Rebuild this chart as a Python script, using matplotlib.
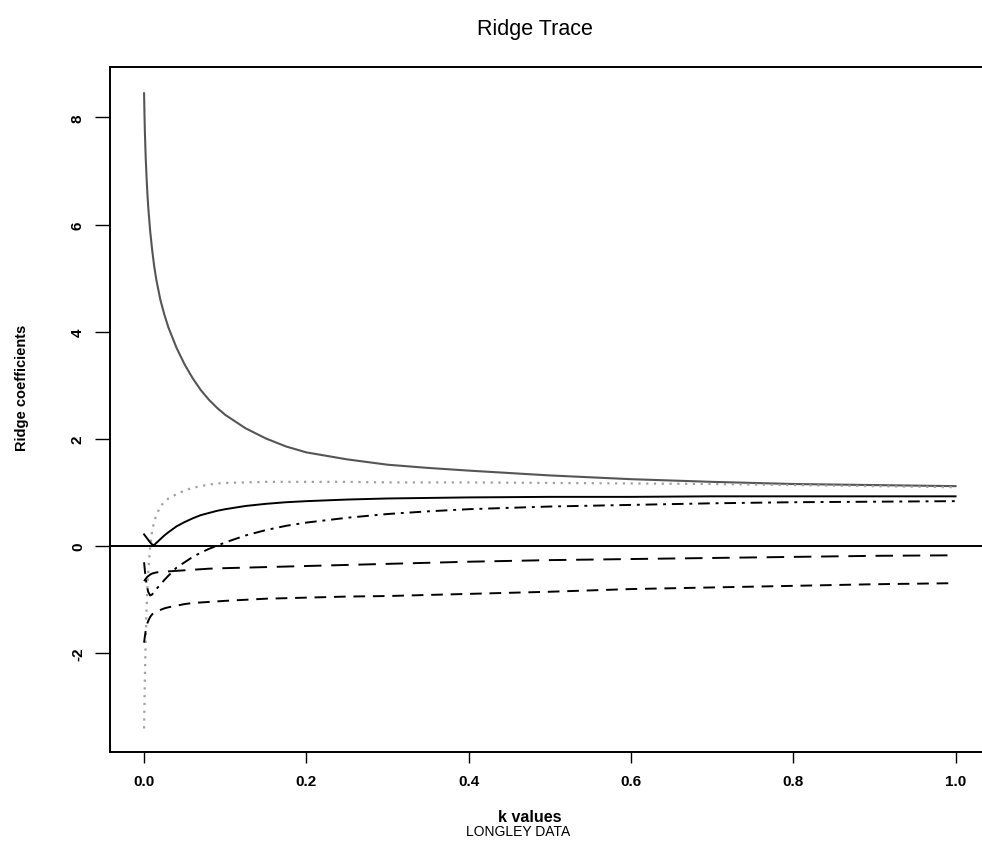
import matplotlib
matplotlib.use("Agg")
import matplotlib.pyplot as plt

plt.rcParams['font.family'] = ['Liberation Sans', 'DejaVu Sans']

# ridge parameter k
k = [0, 0.0005, 0.001, 0.002, 0.003, 0.004, 0.005, 0.0075, 0.01, 0.0125, 0.015, 0.02,
     0.025, 0.03, 0.04, 0.05, 0.06, 0.07, 0.08, 0.09, 0.1, 0.125, 0.15, 0.175, 0.2,
     0.25, 0.3, 0.35, 0.4, 0.5, 0.6, 0.7, 0.8, 0.9, 1.0]

coef_gray_solid = [8.45, 8.05, 7.72, 7.25, 6.9, 6.6, 6.35, 5.88, 5.52, 5.22, 4.98, 4.6,
                   4.32, 4.08, 3.7, 3.39, 3.13, 2.91, 2.73, 2.58, 2.45, 2.2, 2.01, 1.86, 1.75,
                   1.62, 1.52, 1.46, 1.41, 1.32, 1.25, 1.2, 1.16, 1.14, 1.12]
coef_gray_dotted = [-3.4, -2.9, -2.45, -1.75, -1.2, -0.8, -0.5, -0.02, 0.3, 0.46, 0.57, 0.74,
                    0.83, 0.89, 0.97, 1.04, 1.09, 1.12, 1.15, 1.17, 1.18, 1.19, 1.2, 1.2, 1.2,
                    1.2, 1.19, 1.19, 1.19, 1.18, 1.17, 1.16, 1.14, 1.12, 1.1]
coef_black_solid = [0.22, 0.21, 0.2, 0.18, 0.16, 0.14, 0.12, 0.07, 0.03, 0.02, 0.06, 0.13,
                    0.2, 0.26, 0.37, 0.45, 0.52, 0.58, 0.62, 0.66, 0.69, 0.75, 0.79, 0.82, 0.84,
                    0.87, 0.89, 0.9, 0.91, 0.92, 0.92, 0.93, 0.93, 0.93, 0.93]
coef_dashdot = [-0.3, -0.38, -0.46, -0.6, -0.7, -0.78, -0.85, -0.92, -0.9, -0.85, -0.8, -0.72,
                -0.63, -0.55, -0.4, -0.3, -0.2, -0.12, -0.05, 0.01, 0.07, 0.2, 0.3, 0.38, 0.44,
                0.53, 0.6, 0.65, 0.69, 0.74, 0.77, 0.8, 0.82, 0.83, 0.84]
coef_longdash = [-0.65, -0.64, -0.63, -0.61, -0.59, -0.57, -0.56, -0.53, -0.51, -0.5, -0.49, -0.48,
                 -0.475, -0.47, -0.46, -0.45, -0.44, -0.43, -0.42, -0.415, -0.41, -0.4, -0.39, -0.38, -0.37,
                 -0.35, -0.33, -0.31, -0.29, -0.26, -0.24, -0.22, -0.2, -0.18, -0.17]
coef_dashed = [-1.8, -1.74, -1.68, -1.58, -1.5, -1.44, -1.4, -1.32, -1.27, -1.24, -1.22, -1.19,
               -1.16, -1.14, -1.11, -1.08, -1.06, -1.05, -1.04, -1.03, -1.02, -1.0, -0.98, -0.97, -0.96,
               -0.94, -0.93, -0.91, -0.89, -0.85, -0.8, -0.77, -0.74, -0.71, -0.69]

xticks = [0.0, 0.2, 0.4, 0.6, 0.8, 1.0]
xticklabels = ["0.0", "0.2", "0.4", "0.6", "0.8", "1.0"]
yticks = [-2, 0, 2, 4, 6, 8]
yticklabels = ["-2", "0", "2", "4", "6", "8"]

W, H = 982, 845
fig = plt.figure(figsize=(W / 100, H / 100), dpi=100)
ax = fig.add_axes([110 / W, (H - 753) / H, 878 / W, 685 / H])

ax.plot(k, coef_gray_solid, color='#555555', lw=1.5)
ax.plot(k, coef_gray_dotted, color='#a0a0a0', lw=1.6, linestyle=(0, (1, 2.5)))
ax.plot(k, coef_black_solid, color='black', lw=1.4)
ax.plot(k, coef_dashdot, color='black', lw=1.4, linestyle=(0, (6, 3, 1.5, 3)))
ax.plot(k, coef_longdash, color='black', lw=1.4, linestyle=(0, (9, 5)))
ax.plot(k, coef_dashed, color='black', lw=1.4, linestyle=(0, (6, 4)))
ax.axhline(0, color='black', lw=1.4)

ax.set_xlim(-0.042, 1.04)
ax.set_ylim(-3.84, 8.94)
ax.set_xticks(xticks)
ax.set_xticklabels(xticklabels, fontsize=11, fontweight='bold')
ax.set_yticks(yticks)
ax.set_yticklabels(yticklabels, fontsize=11, fontweight='bold', rotation=90, va='center')
ax.tick_params(axis='x', direction='out', length=8, width=1.0, pad=8)
ax.tick_params(axis='y', direction='out', length=11, width=1.0, pad=7)
for s in ax.spines.values():
    s.set_linewidth(1.4)

fig.text(535 / W, 1 - 29 / H, "Ridge Trace", ha='center', va='center', fontsize=15.5)
fig.text(530 / W, 1 - 818 / H, "k values", ha='center', va='center', fontsize=11.5, fontweight='bold')
fig.text(518 / W, 1 - 832 / H, "LONGLEY DATA", ha='center', va='center', fontsize=10)
fig.text(22 / W, 1 - 388 / H, "Ridge coefficients", ha='center', va='center', rotation=90,
         fontsize=10.5, fontweight='bold')

fig.savefig("out.png", dpi=100)
